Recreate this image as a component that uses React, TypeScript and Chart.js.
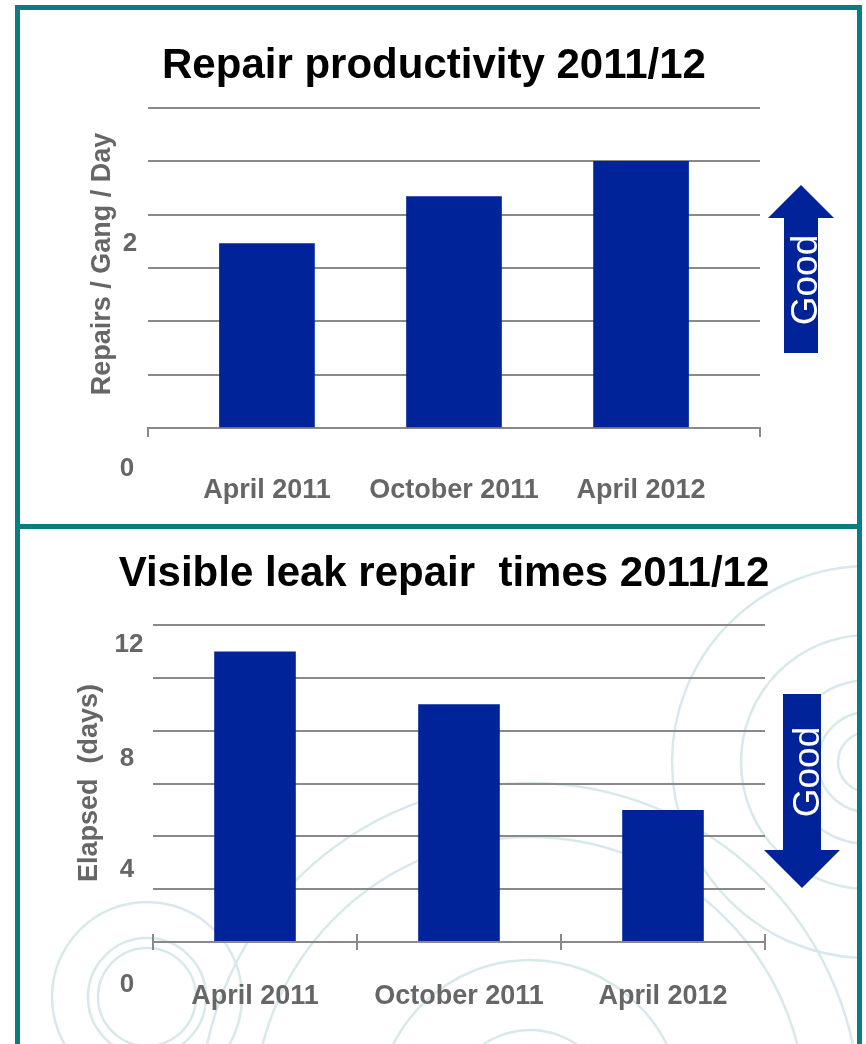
import React, { useEffect, useRef } from 'react';
import { Chart, registerables } from 'chart.js';

Chart.register(...registerables);

// ---------- data ----------
const periods = ['April 2011', 'October 2011', 'April 2012'];
const productivity = [1.73, 2.17, 2.5];
const repairDays = [11, 9, 5];
const productivityAxisLabels = ['2', '0'];
const repairAxisLabels = ['12', '8', '4', '0'];

const topTitle = 'Repair productivity 2011/12';
const bottomTitle = 'Visible leak repair  times 2011/12';
const topYTitle = 'Repairs / Gang / Day';
const bottomYTitle = 'Elapsed  (days)';
const arrowText = 'Good';

// ---------- styles ----------
const FONT = '"Liberation Sans", Arial, Helvetica, sans-serif';
const NAVY = '#00239A';
const GRID = '#898989';
const GREY_TEXT = '#666666';
const TEAL = '#0b7d80';
const RING = '#d8e9ec';

const X_PAD = 0.636; // extra room either side of the bars on the top chart

// positions of the loose axis numbers (they are separate text boxes in the source)
const topNumPos = [
  { x: 130, y: 251 },
  { x: 127, y: 476 },
];
const bottomNumPos = [
  { x: 129, y: 652 },
  { x: 127, y: 766 },
  { x: 127, y: 877 },
  { x: 127, y: 992 },
];

const ringSets = [
  { cx: 147, cy: 997, r: [49, 59, 95] },
  { cx: 530, cy: 1113, r: [83, 153, 276, 330] },
  { cx: 868, cy: 762, r: [30, 50, 82, 127, 196] },
];

const upTicks = {
  id: 'upTicks',
  afterDraw(chart: any) {
    const s = chart.scales.x;
    const ctx = chart.ctx;
    const n = s.ticks.length;
    ctx.save();
    ctx.strokeStyle = GRID;
    ctx.lineWidth = 2;
    for (let i = 0; i <= n; i++) {
      const x = s.left + (s.width * i) / n;
      ctx.beginPath();
      ctx.moveTo(x, s.top);
      ctx.lineTo(x, s.top - 8);
      ctx.stroke();
    }
    ctx.restore();
  },
};

function topConfig(): any {
  return {
    type: 'bar',
    data: {
      datasets: [
        {
          data: productivity.map((v, i) => ({ x: i, y: v })),
          backgroundColor: NAVY,
          barThickness: 95,
        },
      ],
    },
    options: {
      animation: false,
      responsive: false,
      maintainAspectRatio: false,
      layout: { padding: { left: 128, right: 97, top: 98, bottom: 0 } },
      plugins: {
        legend: { display: false },
        tooltip: { enabled: false },
      },
      scales: {
        x: {
          type: 'linear',
          offset: false,
          min: -X_PAD,
          max: periods.length - 1 + X_PAD,
          afterBuildTicks: (scale: any) => {
            const vals = [-X_PAD, ...periods.map((_, i) => i), periods.length - 1 + X_PAD];
            scale.ticks = vals.map((v) => ({ value: v }));
          },
          ticks: {
            autoSkip: false,
            maxRotation: 0,
            minRotation: 0,
            padding: 37,
            color: GREY_TEXT,
            font: { family: FONT, size: 27, weight: 'bold' },
            callback: (v: number) => (Number.isInteger(v) && periods[v] ? periods[v] : ''),
          },
          grid: {
            offset: false,
            drawOnChartArea: false,
            drawTicks: true,
            tickLength: 9,
            lineWidth: 2,
            color: (c: any) =>
              c.tick && Number.isInteger(c.tick.value) ? 'rgba(0,0,0,0)' : GRID,
          },
          border: { display: true, color: GRID, width: 2 },
          afterFit: (s: any) => {
            s.height = 96;
          },
        },
        y: {
          min: 0,
          max: 3,
          ticks: { stepSize: 0.5, display: false },
          grid: { color: GRID, lineWidth: 2, drawTicks: false },
          border: { display: false },
          afterFit: (s: any) => {
            s.width = 0;
          },
        },
      },
    },
  };
}

function bottomConfig(): any {
  return {
    type: 'bar',
    data: {
      labels: periods,
      datasets: [
        {
          data: repairDays,
          backgroundColor: NAVY,
          categoryPercentage: 0.8,
          barPercentage: 0.5,
        },
      ],
    },
    options: {
      animation: false,
      responsive: false,
      maintainAspectRatio: false,
      layout: { padding: { left: 133, right: 92, top: 96, bottom: 0 } },
      plugins: {
        legend: { display: false },
        tooltip: { enabled: false },
      },
      scales: {
        x: {
          type: 'category',
          offset: true,
          ticks: {
            autoSkip: false,
            maxRotation: 0,
            minRotation: 0,
            padding: 30,
            color: GREY_TEXT,
            font: { family: FONT, size: 27, weight: 'bold' },
          },
          grid: {
            offset: true,
            drawOnChartArea: false,
            drawTicks: true,
            tickLength: 8,
            lineWidth: 2,
            color: GRID,
          },
          border: { display: true, color: GRID, width: 2 },
          afterFit: (s: any) => {
            s.height = 102;
          },
        },
        y: {
          min: 0,
          max: 12,
          ticks: { stepSize: 2, display: false },
          grid: { color: GRID, lineWidth: 2, drawTicks: false },
          border: { display: false },
          afterFit: (s: any) => {
            s.width = 0;
          },
        },
      },
    },
    plugins: [upTicks],
  };
}

function Arrow({ up, cx, top, bottom, shaftW, headW, headH, textX, textY }: any) {
  const sl = cx - shaftW / 2;
  const sr = cx + shaftW / 2;
  const hl = cx - headW / 2;
  const hr = cx + headW / 2;
  let pts: number[][];
  if (up) {
    const base = top + headH;
    pts = [
      [cx, top],
      [hr, base],
      [sr, base],
      [sr, bottom],
      [sl, bottom],
      [sl, base],
      [hl, base],
    ];
  } else {
    const base = bottom - headH;
    pts = [
      [sl, top],
      [sr, top],
      [sr, base],
      [hr, base],
      [cx, bottom],
      [hl, base],
      [sl, base],
    ];
  }
  return (
    <g>
      <polygon points={pts.map((p) => p.join(',')).join(' ')} fill={NAVY} />
      <text
        transform={`translate(${textX},${textY}) rotate(-90)`}
        textAnchor="middle"
        fill="#ffffff"
        fontFamily={FONT}
        fontSize={37}
      >
        {arrowText}
      </text>
    </g>
  );
}

export default function App() {
  const topRef = useRef<HTMLCanvasElement>(null);
  const botRef = useRef<HTMLCanvasElement>(null);

  useEffect(() => {
    const c1 = new Chart(topRef.current as HTMLCanvasElement, topConfig());
    const c2 = new Chart(botRef.current as HTMLCanvasElement, bottomConfig());
    return () => {
      c1.destroy();
      c2.destroy();
    };
  }, []);

  const numStyle = {
    fontFamily: FONT,
    fontSize: 26,
    fontWeight: 'bold' as const,
    fill: GREY_TEXT,
  };

  return (
    <div
      style={{
        position: 'absolute',
        left: 0,
        top: 0,
        width: 866,
        height: 1044,
        overflow: 'hidden',
        background: '#ffffff',
      }}
    >
      {/* background rings in the lower panel */}
      <svg
        width={866}
        height={1044}
        style={{ position: 'absolute', left: 0, top: 0 }}
      >
        <defs>
          <clipPath id="lowerPanel">
            <rect x={20} y={529} width={837} height={515} />
          </clipPath>
        </defs>
        <g clipPath="url(#lowerPanel)" fill="none" stroke={RING} strokeWidth={2.5}>
          {ringSets.map((s, i) =>
            s.r.map((r, j) => <circle key={`${i}-${j}`} cx={s.cx} cy={s.cy} r={r} />)
          )}
        </g>
      </svg>

      <canvas
        ref={topRef}
        width={837}
        height={514}
        style={{ position: 'absolute', left: 20, top: 10, display: 'block' }}
      />
      <canvas
        ref={botRef}
        width={837}
        height={515}
        style={{ position: 'absolute', left: 20, top: 529, display: 'block' }}
      />

      {/* frame */}
      <div
        style={{
          position: 'absolute',
          left: 15,
          top: 5,
          width: 837,
          height: 1100,
          border: `5px solid ${TEAL}`,
        }}
      />
      <div
        style={{
          position: 'absolute',
          left: 15,
          top: 524,
          width: 847,
          height: 5,
          background: TEAL,
        }}
      />

      {/* texts and arrows */}
      <svg
        width={866}
        height={1044}
        style={{ position: 'absolute', left: 0, top: 0, pointerEvents: 'none' }}
      >
        <text
          x={434}
          y={78}
          textAnchor="middle"
          fontFamily={FONT}
          fontSize={42}
          fontWeight="bold"
          fill="#000000"
        >
          {topTitle}
        </text>
        <text
          x={444}
          y={586}
          textAnchor="middle"
          fontFamily={FONT}
          fontSize={42}
          fontWeight="bold"
          fill="#000000"
          style={{ whiteSpace: 'pre' }}
        >
          {bottomTitle}
        </text>

        <text
          transform="translate(110,264) rotate(-90)"
          textAnchor="middle"
          fontFamily={FONT}
          fontSize={27}
          fontWeight="bold"
          fill={GREY_TEXT}
        >
          {topYTitle}
        </text>
        <text
          transform="translate(97,783) rotate(-90)"
          textAnchor="middle"
          fontFamily={FONT}
          fontSize={27}
          fontWeight="bold"
          fill={GREY_TEXT}
          style={{ whiteSpace: 'pre' }}
        >
          {bottomYTitle}
        </text>

        {productivityAxisLabels.map((t, i) => (
          <text key={`t${i}`} x={topNumPos[i].x} y={topNumPos[i].y} textAnchor="middle" {...numStyle}>
            {t}
          </text>
        ))}
        {repairAxisLabels.map((t, i) => (
          <text key={`b${i}`} x={bottomNumPos[i].x} y={bottomNumPos[i].y} textAnchor="middle" {...numStyle}>
            {t}
          </text>
        ))}

        <Arrow up cx={801} top={185} bottom={353} shaftW={34} headW={66} headH={33} textX={817} textY={280} />
        <Arrow up={false} cx={802} top={694} bottom={888} shaftW={38} headW={76} headH={38} textX={819} textY={772} />
      </svg>
    </div>
  );
}
